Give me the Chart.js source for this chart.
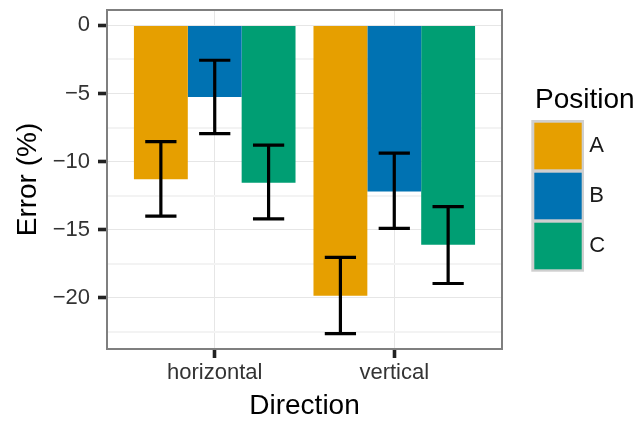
<!DOCTYPE html>
<html>
<head>
<meta charset="utf-8">
<script src="https://cdn.jsdelivr.net/npm/chart.js@4/dist/chart.umd.min.js"></script>
<style>
  html, body { margin: 0; padding: 0; background: #fff; }
  #wrap { width: 635px; height: 421px; }
</style>
</head>
<body>
<div id="wrap"><canvas id="chart" width="635" height="421"></canvas></div>
<script>
const directions = ['horizontal', 'vertical'];
const positions = ['A', 'B', 'C'];
const colors = ['#E69F00', '#0072B2', '#009E73'];

// mean error per position, one value per direction
const errorA = [-11.3, -19.85];
const errorB = [-5.26, -12.2];
const errorC = [-11.55, -16.1];

// error bar ends
const upperA = [-8.53, -17.03];
const lowerA = [-14.0, -22.63];
const upperB = [-2.56, -9.38];
const lowerB = [-7.94, -14.91];
const upperC = [-8.79, -13.3];
const lowerC = [-14.2, -18.95];

const yTicks = [0, -5, -10, -15, -20];
const yTickLabels = ['0', '\u22125', '\u221210', '\u221215', '\u221220'];
const yMinor = [-2.5, -7.5, -12.5, -17.5, -22.5];

const FONT = '"Liberation Sans", Arial, sans-serif';
Chart.defaults.font.family = FONT;

const seriesValues = [errorA, errorB, errorC];
const seriesUpper = [upperA, upperB, upperC];
const seriesLower = [lowerA, lowerB, lowerC];

const datasets = positions.map((p, k) => ({
  label: p,
  data: directions.map((d, i) => ({ x: i, y: seriesValues[k][i] })),
  upper: seriesUpper[k],
  lower: seriesLower[k],
  backgroundColor: colors[k],
  borderWidth: 0,
  categoryPercentage: 0.9,
  barPercentage: 1.0,
}));

// error bars + panel border
const errorBars = {
  id: 'errorBars',
  afterDatasetsDraw(chart) {
    const ctx = chart.ctx;
    const y = chart.scales.y;
    ctx.save();
    ctx.strokeStyle = '#000';
    ctx.lineWidth = 3.2;
    ctx.lineCap = 'butt';
    chart.data.datasets.forEach((ds, k) => {
      const meta = chart.getDatasetMeta(k);
      meta.data.forEach((bar, i) => {
        const half = bar.width * 0.29;
        const yHi = y.getPixelForValue(ds.upper[i]);
        const yLo = y.getPixelForValue(ds.lower[i]);
        ctx.beginPath();
        ctx.moveTo(bar.x, yHi);
        ctx.lineTo(bar.x, yLo);
        ctx.moveTo(bar.x - half, yHi);
        ctx.lineTo(bar.x + half, yHi);
        ctx.moveTo(bar.x - half, yLo);
        ctx.lineTo(bar.x + half, yLo);
        ctx.stroke();
      });
    });
    const a = chart.chartArea;
    ctx.strokeStyle = '#7f7f7f';
    ctx.lineWidth = 2;
    ctx.strokeRect(a.left, a.top, a.right - a.left, a.bottom - a.top);
    ctx.restore();
  }
};

// ggplot-style legend on the right
const sideLegend = {
  id: 'sideLegend',
  afterDraw(chart) {
    const ctx = chart.ctx;
    const a = chart.chartArea;
    const left = a.right + 29.3;
    const top = 120;
    const pitch = 50;
    ctx.save();
    ctx.fillStyle = '#000';
    ctx.font = '28px ' + FONT;
    ctx.textBaseline = 'alphabetic';
    ctx.textAlign = 'left';
    ctx.fillText('Position', left + 3.7, 108.3);

    ctx.fillStyle = '#cfcfcf';
    ctx.fillRect(left, top, 52.7, pitch * positions.length + 1.7);
    positions.forEach((p, k) => {
      const ky = top + 2.7 + k * pitch;
      ctx.fillStyle = colors[k];
      ctx.fillRect(left + 3, ky, 47.4, 46.6);
      ctx.fillStyle = '#1a1a1a';
      ctx.font = '22px ' + FONT;
      ctx.textBaseline = 'middle';
      ctx.fillText(p, left + 58, ky + 23.3);
    });
    ctx.restore();
  }
};

const isMinor = (v) => yMinor.includes(v);

new Chart(document.getElementById('chart'), {
  type: 'bar',
  data: { datasets },
  options: {
    responsive: false,
    animation: false,
    layout: { padding: { top: 10, right: 133, left: 0, bottom: 0 } },
    plugins: {
      legend: { display: false },
      tooltip: { enabled: false },
    },
    scales: {
      x: {
        type: 'linear',
        min: -0.6,
        max: 1.6,
        offset: false,
        afterBuildTicks: (scale) => {
          scale.ticks = directions.map((d, i) => ({ value: i }));
        },
        afterFit: (scale) => {
          scale.height = 72;
          scale.paddingLeft = 0;
          scale.paddingRight = 0;
        },
        ticks: {
          autoSkip: false,
          maxRotation: 0,
          padding: 2,
          color: '#333',
          font: { size: 22 },
          callback: (v) => directions[v],
        },
        grid: {
          offset: false,
          color: '#e6e6e6',
          lineWidth: 1,
          tickLength: 9,
          tickColor: '#222',
          tickWidth: 3.6,
        },
        border: { display: false },
        title: {
          display: true,
          text: 'Direction',
          color: '#000',
          font: { size: 28, lineHeight: 1.07 },
          padding: 0,
        },
      },
      y: {
        min: -23.76,
        max: 1.13,
        afterBuildTicks: (scale) => {
          scale.ticks = yTicks.concat(yMinor).sort((p, q) => q - p).map(v => ({ value: v }));
        },
        afterFit: (scale) => {
          scale.width = 107;
          scale.paddingTop = 0;
          scale.paddingBottom = 0;
        },
        ticks: {
          autoSkip: false,
          padding: 8,
          color: '#333',
          font: { size: 22 },
          callback: (v) => {
            const i = yTicks.indexOf(v);
            return i >= 0 ? yTickLabels[i] : '';
          },
        },
        grid: {
          color: (c) => (c.tick && isMinor(c.tick.value)) ? '#f3f3f3' : '#e6e6e6',
          lineWidth: (c) => (c.tick && isMinor(c.tick.value)) ? 2 : 1,
          tickLength: 9,
          tickColor: (c) => (c.tick && isMinor(c.tick.value)) ? 'rgba(0,0,0,0)' : '#222',
          tickWidth: 3.6,
        },
        border: { display: false },
        title: {
          display: true,
          text: 'Error (%)',
          color: '#000',
          font: { size: 28, lineHeight: 1.2 },
          padding: { top: 11, bottom: 0 },
        },
      },
    },
  },
  plugins: [errorBars, sideLegend],
});
</script>
</body>
</html>
